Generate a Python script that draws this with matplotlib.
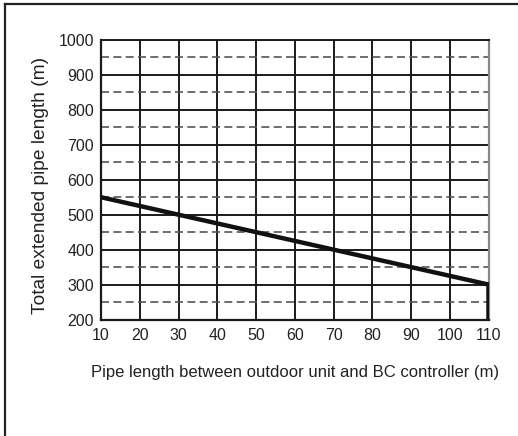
import matplotlib.pyplot as plt
from matplotlib.lines import Line2D

plt.rcParams['font.family'] = ['Liberation Sans', 'DejaVu Sans']

# data
pipe_x = [10, 110, 110]
total_y = [550, 300, 200]
xticks = [10, 20, 30, 40, 50, 60, 70, 80, 90, 100, 110]
yticks = [200, 300, 400, 500, 600, 700, 800, 900, 1000]
ydash = [250, 350, 450, 550, 650, 750, 850, 950]

fig = plt.figure(figsize=(5.18, 4.36), dpi=100)
ax = fig.add_axes([101 / 518, 1 - 319.5 / 436, (488.5 - 101) / 518, (319.5 - 40) / 436])

# outer frame (only top and left edges visible)
fig.add_artist(Line2D([4.5 / 518, 1.0], [1 - 4.5 / 436] * 2, color='#222222', lw=1.6,
                      transform=fig.transFigure))
fig.add_artist(Line2D([4.5 / 518] * 2, [0.0, 1 - 4.5 / 436], color='#222222', lw=1.6,
                      transform=fig.transFigure))

for x in xticks:
    ax.axvline(x, color='#1a1a1a', lw=1.4, zorder=1)
for y in yticks:
    ax.axhline(y, color='#1a1a1a', lw=1.4, zorder=1)
for y in ydash:
    ax.axhline(y, color='#555555', lw=1.2, ls=(0, (4.8, 2.6)), zorder=1)

ax.plot(pipe_x, total_y, color='#111111', lw=3.2, solid_capstyle='butt', zorder=3)

ax.set_xlim(10, 110)
ax.set_ylim(200, 1000)
ax.set_xticks(xticks)
ax.set_yticks(yticks)
ax.tick_params(axis='x', length=0, labelsize=11.5, colors='#222222', pad=6)
ax.tick_params(axis='y', length=0, labelsize=11.5, colors='#222222', pad=5)
for s in ['left', 'bottom']:
    ax.spines[s].set_color('#1a1a1a')
    ax.spines[s].set_linewidth(1.6)
ax.spines['top'].set_color('#1a1a1a')
ax.spines['top'].set_linewidth(1.4)
ax.spines['right'].set_color('#888888')
ax.spines['right'].set_linewidth(1.6)

ax.set_ylabel('Total extended pipe length (m)', fontsize=13.8, color='#222222', va='center')
ax.yaxis.set_label_coords(-0.157, 0.481)
ax.set_xlabel('Pipe length between outdoor unit and BC controller (m)', fontsize=12,
              color='#222222', labelpad=16)

fig.savefig('out.png', dpi=100)
